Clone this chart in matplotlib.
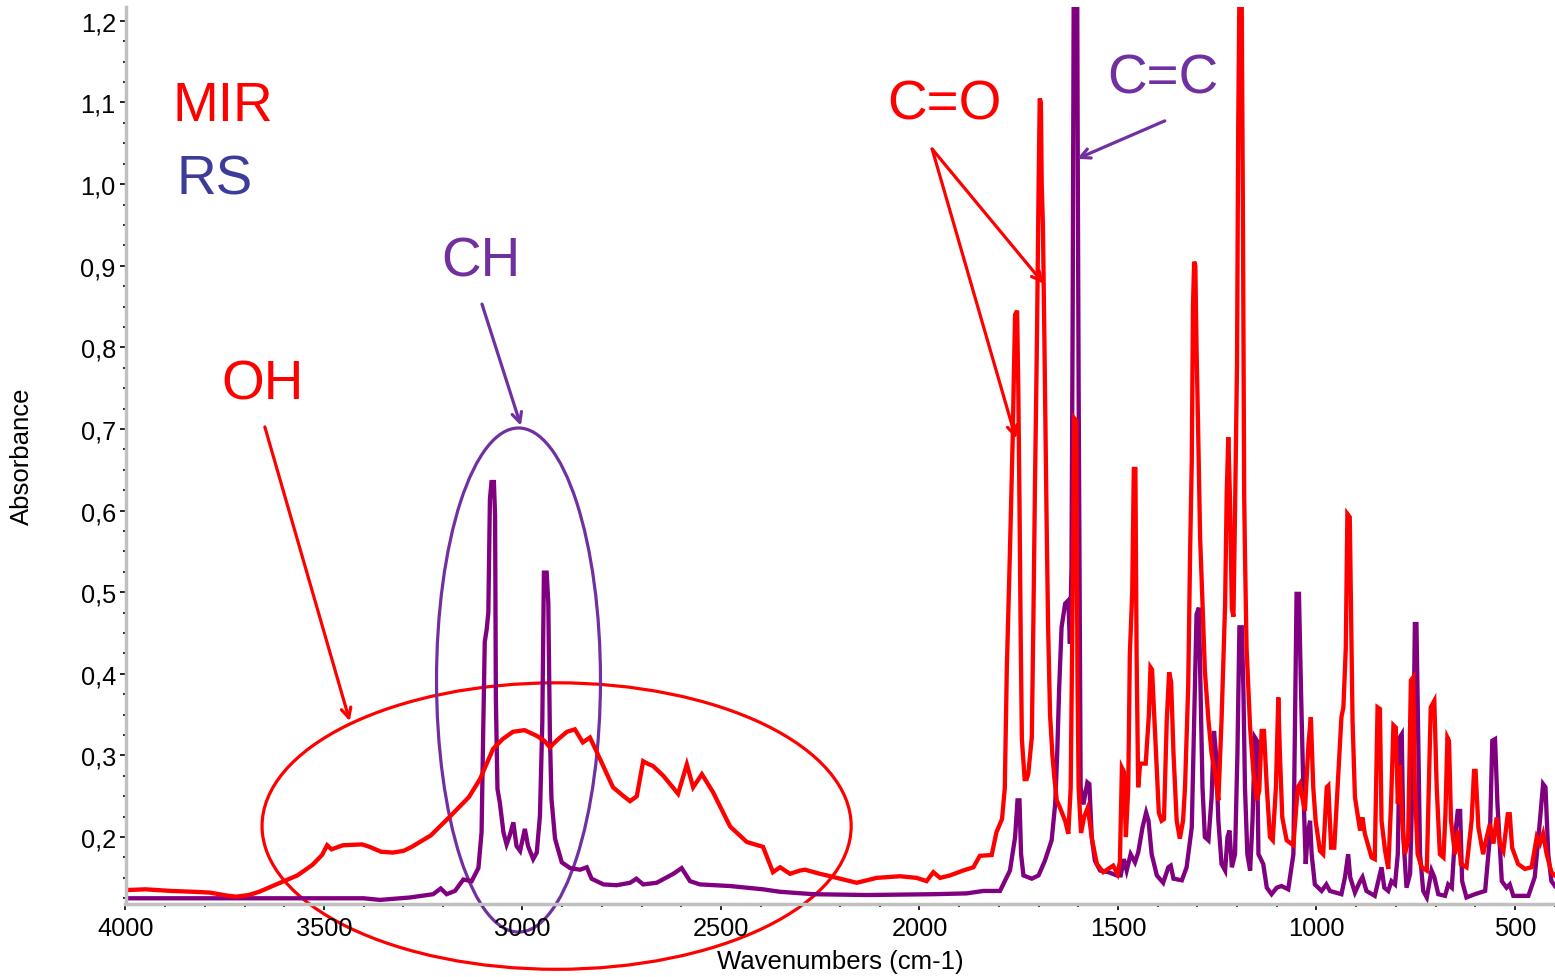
"""MIR vs RS spectra overlay with band annotations."""

import matplotlib

matplotlib.use("Agg")
import matplotlib.pyplot as plt
from matplotlib.patches import Ellipse
from matplotlib.ticker import FuncFormatter, MultipleLocator

plt.rcParams["font.family"] = ["Liberation Sans", "DejaVu Sans"]

# MIR spectrum (red)
mir_wn = [4000, 3950, 3885, 3830, 3788, 3740, 3721, 3690, 3663, 3625, 3567, 3529, 3505, 3492, 3481,
          3452, 3404, 3385, 3356, 3327, 3300, 3279, 3231, 3208, 3183, 3135, 3107, 3074, 3050, 3024,
          2995, 2964, 2945, 2931, 2910, 2888, 2868, 2848, 2830, 2805, 2772, 2745, 2729, 2712, 2696,
          2685, 2671, 2645, 2608, 2586, 2570, 2548, 2520, 2477, 2435, 2394, 2369, 2351, 2326, 2301,
          2288, 2251, 2233, 2200, 2158, 2108, 2049, 2007, 1982, 1965, 1948, 1923, 1890, 1864, 1848,
          1818, 1806, 1792, 1785, 1780, 1772, 1765, 1762, 1759, 1754, 1751, 1748, 1745, 1742, 1735,
          1730, 1726, 1717, 1713, 1709, 1704, 1700, 1697, 1694, 1692, 1689, 1685, 1680, 1676, 1671,
          1665, 1660, 1654, 1646, 1633, 1625, 1619, 1614, 1610, 1605, 1602, 1599, 1593, 1585, 1576,
          1570, 1565, 1553, 1537, 1512, 1501, 1495, 1490, 1485, 1480, 1474, 1470, 1464, 1460, 1456,
          1453, 1449, 1444, 1430, 1422, 1418, 1414, 1407, 1397, 1390, 1384, 1377, 1371, 1366, 1360,
          1352, 1344, 1336, 1331, 1323, 1318, 1314, 1311, 1308, 1305, 1302, 1298, 1293, 1289, 1281,
          1272, 1264, 1255, 1247, 1239, 1230, 1226, 1222, 1218, 1213, 1209, 1205, 1200, 1197, 1195,
          1193, 1189, 1187, 1185, 1182, 1180, 1176, 1167, 1159, 1150, 1144, 1138, 1132, 1125, 1117,
          1110, 1102, 1096, 1092, 1086, 1075, 1058, 1047, 1042, 1029, 1020, 1014, 1008, 1002, 991,
          983, 974, 970, 963, 955, 945, 937, 932, 926, 922, 916, 911, 909, 903, 890,
          884, 878, 861, 853, 846, 840, 836, 827, 819, 812, 806, 800, 795, 790, 784,
          777, 769, 762, 756, 752, 745, 735, 722, 717, 712, 703, 697, 689, 680, 675,
          670, 666, 661, 651, 643, 636, 622, 609, 603, 599, 592, 580, 571, 563, 554,
          546, 538, 529, 518, 513, 507, 492, 475, 458, 445, 437, 429, 420, 408, 399]
mir_abs = [0.135, 0.136, 0.134, 0.133, 0.132, 0.128, 0.127, 0.129, 0.133, 0.141, 0.153, 0.166, 0.178, 0.190, 0.185,
           0.190, 0.191, 0.188, 0.182, 0.181, 0.183, 0.188, 0.202, 0.213, 0.225, 0.249, 0.271, 0.308, 0.320, 0.329,
           0.331, 0.324, 0.318, 0.310, 0.320, 0.329, 0.332, 0.316, 0.322, 0.296, 0.261, 0.250, 0.244, 0.250, 0.293,
           0.290, 0.287, 0.275, 0.253, 0.289, 0.261, 0.277, 0.255, 0.213, 0.194, 0.188, 0.157, 0.163, 0.155, 0.159,
           0.160, 0.155, 0.153, 0.149, 0.144, 0.150, 0.152, 0.150, 0.146, 0.157, 0.150, 0.153, 0.159, 0.163, 0.177,
           0.178, 0.206, 0.222, 0.260, 0.404, 0.551, 0.690, 0.770, 0.840, 0.845, 0.750, 0.610, 0.450, 0.320, 0.271,
           0.271, 0.277, 0.322, 0.465, 0.630, 0.810, 0.990, 1.105, 1.100, 1.000, 0.950, 0.800, 0.600, 0.460, 0.350,
           0.300, 0.272, 0.245, 0.236, 0.220, 0.204, 0.260, 0.500, 0.713, 0.710, 0.400, 0.260, 0.205, 0.225, 0.236,
           0.215, 0.196, 0.167, 0.157, 0.165, 0.155, 0.170, 0.285, 0.280, 0.200, 0.261, 0.424, 0.500, 0.651, 0.651,
           0.424, 0.261, 0.290, 0.290, 0.350, 0.408, 0.405, 0.334, 0.230, 0.220, 0.222, 0.343, 0.402, 0.390, 0.302,
           0.220, 0.198, 0.220, 0.261, 0.384, 0.555, 0.660, 0.850, 0.905, 0.900, 0.800, 0.700, 0.567, 0.514, 0.404,
           0.343, 0.302, 0.277, 0.245, 0.343, 0.486, 0.620, 0.690, 0.620, 0.480, 0.470, 0.600, 0.780, 1.070, 1.170,
           1.300, 1.300, 1.120, 0.950, 0.620, 0.547, 0.432, 0.334, 0.281, 0.245, 0.257, 0.330, 0.330, 0.261, 0.200,
           0.196, 0.261, 0.371, 0.302, 0.224, 0.196, 0.190, 0.261, 0.265, 0.232, 0.314, 0.347, 0.261, 0.220, 0.183,
           0.179, 0.261, 0.263, 0.187, 0.187, 0.277, 0.347, 0.359, 0.432, 0.596, 0.592, 0.408, 0.343, 0.249, 0.208,
           0.224, 0.204, 0.175, 0.173, 0.359, 0.357, 0.220, 0.183, 0.161, 0.241, 0.337, 0.334, 0.241, 0.288, 0.220,
           0.179, 0.196, 0.392, 0.396, 0.261, 0.179, 0.163, 0.159, 0.261, 0.359, 0.367, 0.261, 0.179, 0.175, 0.228,
           0.322, 0.318, 0.220, 0.179, 0.208, 0.167, 0.163, 0.220, 0.281, 0.281, 0.212, 0.179, 0.200, 0.216, 0.192,
           0.224, 0.192, 0.183, 0.228, 0.228, 0.187, 0.167, 0.161, 0.163, 0.200, 0.192, 0.204, 0.179, 0.157, 0.153]

# RS spectrum (purple)
rs_wn = [4000, 3700, 3400, 3359, 3283, 3225, 3206, 3191, 3170, 3149, 3128, 3111, 3103, 3099, 3095,
         3090, 3086, 3082, 3078, 3072, 3069, 3067, 3063, 3057, 3048, 3040, 3032, 3023, 3015, 3006,
         2994, 2986, 2973, 2964, 2956, 2950, 2946, 2939, 2935, 2931, 2927, 2918, 2901, 2880, 2855,
         2838, 2826, 2796, 2763, 2729, 2713, 2696, 2662, 2620, 2599, 2578, 2553, 2477, 2394, 2352,
         2267, 2133, 1965, 1881, 1839, 1797, 1772, 1759, 1753, 1748, 1744, 1738, 1717, 1700, 1684,
         1667, 1658, 1653, 1648, 1642, 1633, 1625, 1621, 1617, 1614, 1611, 1603, 1601, 1599, 1597,
         1594, 1587, 1577, 1572, 1566, 1558, 1545, 1524, 1503, 1493, 1485, 1478, 1468, 1457, 1449,
         1438, 1429, 1423, 1415, 1402, 1386, 1373, 1367, 1360, 1339, 1327, 1314, 1308, 1302, 1296,
         1292, 1287, 1281, 1272, 1264, 1258, 1253, 1247, 1239, 1230, 1224, 1219, 1213, 1205, 1199,
         1194, 1188, 1184, 1180, 1174, 1167, 1161, 1155, 1150, 1146, 1134, 1125, 1113, 1100, 1088,
         1071, 1058, 1054, 1050, 1044, 1039, 1033, 1027, 1022, 1016, 1012, 1004, 987, 975, 966,
         937, 928, 920, 915, 903, 890, 884, 874, 853, 842, 836, 829, 819, 811, 802,
         795, 790, 785, 781, 773, 764, 756, 752, 748, 743, 739, 731, 722, 710, 703,
         693, 676, 668, 659, 651, 644, 638, 633, 622, 601, 575, 563, 557, 550, 544,
         533, 521, 513, 504, 466, 450, 437, 429, 423, 416, 408, 399]
rs_abs = [0.125, 0.125, 0.125, 0.123, 0.126, 0.130, 0.137, 0.130, 0.134, 0.148, 0.146, 0.162, 0.206, 0.328, 0.439,
          0.455, 0.475, 0.614, 0.635, 0.635, 0.594, 0.369, 0.259, 0.242, 0.206, 0.191, 0.202, 0.218, 0.189, 0.183,
          0.210, 0.189, 0.173, 0.181, 0.226, 0.341, 0.524, 0.524, 0.488, 0.328, 0.247, 0.198, 0.169, 0.162, 0.160,
          0.163, 0.149, 0.142, 0.141, 0.144, 0.149, 0.142, 0.144, 0.155, 0.162, 0.146, 0.142, 0.140, 0.136, 0.133,
          0.130, 0.129, 0.130, 0.131, 0.134, 0.134, 0.159, 0.200, 0.245, 0.245, 0.179, 0.153, 0.149, 0.153, 0.171,
          0.196, 0.241, 0.302, 0.383, 0.457, 0.486, 0.490, 0.437, 0.530, 0.840, 1.300, 1.300, 1.000, 0.750, 0.547,
          0.261, 0.240, 0.267, 0.265, 0.200, 0.171, 0.159, 0.157, 0.153, 0.153, 0.173, 0.159, 0.179, 0.169, 0.181,
          0.212, 0.230, 0.220, 0.179, 0.153, 0.144, 0.163, 0.165, 0.149, 0.147, 0.163, 0.212, 0.343, 0.473, 0.481,
          0.383, 0.261, 0.200, 0.196, 0.249, 0.330, 0.302, 0.220, 0.167, 0.159, 0.200, 0.208, 0.163, 0.179, 0.302,
          0.457, 0.457, 0.383, 0.261, 0.179, 0.159, 0.220, 0.322, 0.318, 0.179, 0.167, 0.138, 0.130, 0.138, 0.140,
          0.136, 0.179, 0.343, 0.498, 0.498, 0.383, 0.261, 0.167, 0.204, 0.220, 0.179, 0.142, 0.134, 0.142, 0.134,
          0.130, 0.151, 0.179, 0.151, 0.132, 0.146, 0.151, 0.134, 0.128, 0.151, 0.163, 0.138, 0.134, 0.146, 0.142,
          0.179, 0.322, 0.326, 0.200, 0.138, 0.155, 0.302, 0.461, 0.461, 0.302, 0.179, 0.134, 0.126, 0.159, 0.151,
          0.130, 0.128, 0.142, 0.138, 0.200, 0.232, 0.232, 0.146, 0.126, 0.130, 0.134, 0.200, 0.318, 0.320, 0.241,
          0.146, 0.138, 0.142, 0.128, 0.128, 0.151, 0.220, 0.265, 0.261, 0.179, 0.146, 0.140]

RED = "#ff0000"
PURPLE = "#800080"
VIOLET = "#7030a0"

fig = plt.figure(figsize=(15.55, 9.78), dpi=100)
ax = fig.add_axes([125.5 / 1555, 73 / 978, 1429.5 / 1555, 897 / 978])

ax.plot(rs_wn, rs_abs, color=PURPLE, lw=3.1, solid_joinstyle="miter")
ax.plot(mir_wn, mir_abs, color=RED, lw=3.1, solid_joinstyle="miter")

ax.set_xlim(4000, 399)
ax.set_ylim(0.118, 1.217)

for side in ("top", "right"):
    ax.spines[side].set_visible(False)
for side in ("left", "bottom"):
    ax.spines[side].set_color("#c0c0c0")
    ax.spines[side].set_linewidth(2.5)

ax.xaxis.set_major_locator(MultipleLocator(500))
ax.xaxis.set_minor_locator(MultipleLocator(100))
ax.set_yticks([0.2, 0.3, 0.4, 0.5, 0.6, 0.7, 0.8, 0.9, 1.0, 1.1, 1.2])
ax.yaxis.set_minor_locator(MultipleLocator(0.025))
ax.yaxis.set_major_formatter(FuncFormatter(lambda v, _: f"{v:.1f}".replace(".", ",")))
ax.tick_params(which="major", direction="out", length=4, width=1.2, labelsize=18.3, pad=3)
ax.tick_params(which="minor", direction="out", length=2.5, width=1.2)
ax.tick_params(axis="x", pad=5)

ax.set_xlabel("Wavenumbers (cm-1)", fontsize=18.5)
ax.set_ylabel("Absorbance", fontsize=18.5)
ax.xaxis.set_label_coords(0.5, -0.05)
ax.yaxis.set_label_coords(-0.064, 0.5)

# band annotations
ax.add_patch(Ellipse((2914, 0.2135), 1484, 0.351, fill=False, ec=RED, lw=2.3, clip_on=False))
ax.add_patch(Ellipse((3010, 0.3924), 413, 0.6176, fill=False, ec=VIOLET, lw=2.3, clip_on=False))

big = dict(fontsize=39.5, ha="center", va="center")
ax.text(3754, 1.096, "MIR", color=RED, **big)
ax.text(3775, 1.006, "RS", color="#3d3d99", **big)
ax.text(3105, 0.905, "CH", color=VIOLET, **big)
ax.text(3654, 0.754, "OH", color=RED, **big)
ax.text(1938, 1.097, "C=O", color=RED, **big)
ax.text(1387, 1.129, "C=C", color=VIOLET, **big)

arrow = dict(arrowstyle="->,head_length=0.7,head_width=0.35", lw=2.3, shrinkA=0, shrinkB=0)
ax.annotate("", xy=(3435, 0.342), xytext=(3649, 0.7025), arrowprops=dict(color=RED, **arrow))
ax.annotate("", xy=(3004, 0.704), xytext=(3102, 0.853), arrowprops=dict(color=VIOLET, **arrow))
ax.annotate("", xy=(1687, 0.878), xytext=(1968, 1.043), arrowprops=dict(color=RED, **arrow))
ax.annotate("", xy=(1757, 0.688), xytext=(1968, 1.043), arrowprops=dict(color=RED, **arrow))
ax.annotate("", xy=(1603, 1.031), xytext=(1382, 1.0775), arrowprops=dict(color=VIOLET, **arrow))

fig.savefig("out.png", dpi=100)
